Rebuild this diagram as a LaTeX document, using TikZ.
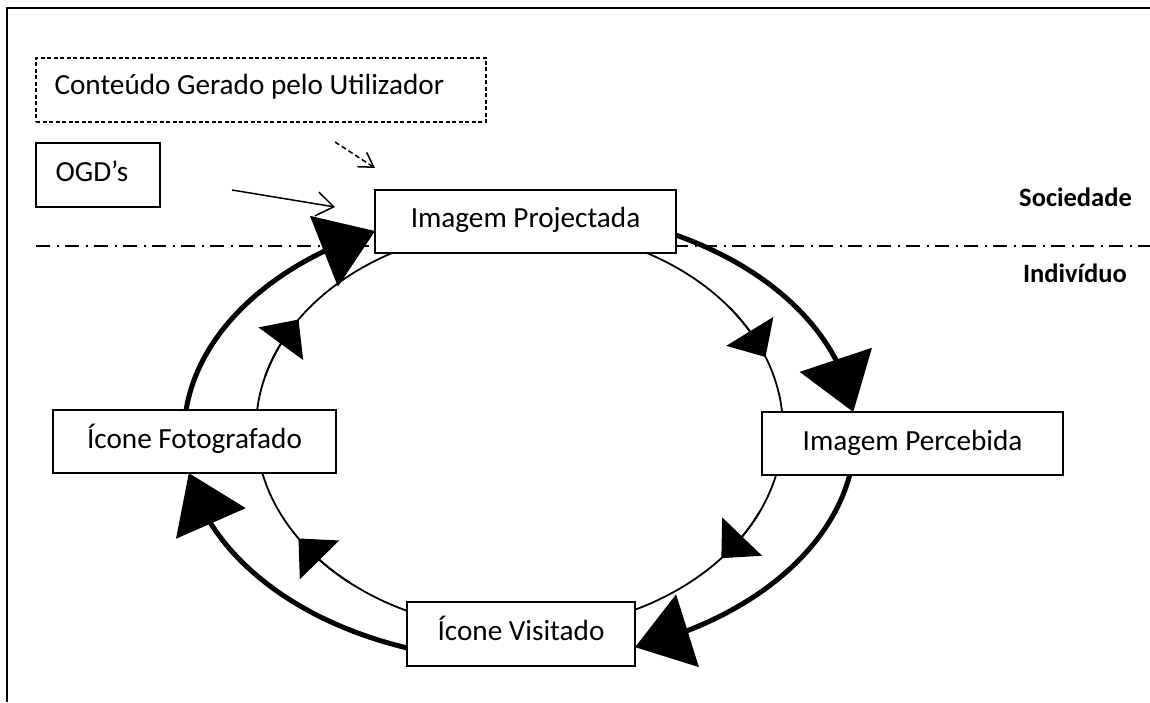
\documentclass[tikz,border=0pt]{standalone}
\usepackage{fontspec}
\setmainfont{Carlito}
\usetikzlibrary{arrows.meta,bending}

\begin{document}
\begin{tikzpicture}[x=1pt,y=1pt,
  box/.style={draw,line width=1.4pt,fill=white,inner sep=0pt,
    font=\fontsize{29.2}{32}\selectfont,text height=19pt,text depth=6pt,align=center},
  label text/.style={inner sep=0pt,font=\fontsize{29.2}{32}\selectfont,anchor=base west},
  outerloop/.style={line width=5pt,-{Triangle[length=55pt,width=75pt]}},
  innerloop/.style={line width=1.8pt},
  innertip/.style={line width=1.8pt,-{Triangle[length=30pt,width=55pt]}},
  feed/.style={line width=1.5pt,-{Straight Barb[length=17pt,width=24pt]}},
  side/.style={inner sep=0pt,anchor=base east,font=\fontsize{26.5}{30}\selectfont\bfseries},
  frameline/.style={line width=2pt}
]
\useasboundingbox (0,0) rectangle (1150,702);

% page frame (top and left edges)
\coordinate (ftop) at (1150,694);
\coordinate (fcorner) at (7,694);
\coordinate (fbot) at (7,0);
\draw[frameline] (ftop) -- (fcorner) -- (fbot);

% boundary between society and individual
\coordinate (sepL) at (36,456);
\coordinate (sepR) at (1150,456);
\draw[line width=1.5pt,dash pattern=on 14pt off 7pt on 2pt off 6pt] (sepL) -- (sepR);

% centres of the two cycles
\coordinate (co) at (519.5,267);
\coordinate (ci) at (519.5,273);

% inner cycle
\draw[innerloop] (ci) ellipse[x radius=263.5, y radius=201];
\draw[innertip] (ci) ++(165:263.5 and 201) arc[start angle=165, end angle=147, x radius=263.5, y radius=201];
\draw[innertip] (ci) ++(38:263.5 and 201) arc[start angle=38, end angle=21, x radius=263.5, y radius=201];
\draw[innertip] (ci) ++(-24:263.5 and 201) arc[start angle=-24, end angle=-40, x radius=263.5, y radius=201];
\draw[innertip] (ci) ++(-130:263.5 and 201) arc[start angle=-130, end angle=-147, x radius=263.5, y radius=201];

% outer cycle
\draw[outerloop] (co) ++(173.65:335.5 and 226) arc[start angle=173.65, end angle=115.5, x radius=335.5, y radius=226];
\draw[outerloop] (co) ++(62.2:335.5 and 226) arc[start angle=62.2, end angle=5.84, x radius=335.5, y radius=226];
\draw[outerloop] (co) ++(-10.2:335.5 and 226) arc[start angle=-10.2, end angle=-69.86, x radius=335.5, y radius=226];
\draw[outerloop] (co) ++(-109.6:335.5 and 226) arc[start angle=-109.6, end angle=-170.3, x radius=335.5, y radius=226];

% stages
\node[box,minimum width=301pt,minimum height=63pt] (proj) at (525.5,480.5) {Imagem Projectada};
\node[box,minimum width=283pt,minimum height=63pt] (fot) at (194.5,260.5) {Ícone Fotografado};
\node[box,minimum width=301pt,minimum height=63pt] (perc) at (912.5,258.5) {Imagem Percebida};
\node[box,minimum width=228pt,minimum height=64pt] (vis) at (521,68) {Ícone Visitado};

% sources
\node[box,dash pattern=on 4pt off 2.5pt,minimum width=450pt,minimum height=64pt] (cgu) at (261,612) {};
\node[label text] (cgutext) at ([xshift=19pt,yshift=-5pt]cgu.west) {Conteúdo Gerado pelo Utilizador};
\node[box,minimum width=124pt,minimum height=64pt] (ogd) at (98,527) {};
\node[label text] (ogdtext) at ([xshift=20pt,yshift=-7pt]ogd.west) {OGD’s};

\coordinate (ogdA) at (232,512);
\coordinate (ogdB) at (335,495);
\draw[feed] (ogdA) -- (ogdB);
\coordinate (cguA) at (335,560);
\coordinate (cguB) at (375,534);
\draw[feed,dash pattern=on 5pt off 3pt,-{Straight Barb[length=14pt,width=17pt]}] (cguA) -- (cguB);

% levels
\node[side] (soc) at (1132,495) {Sociedade};
\node[side] (ind) at (1127,419) {Indivíduo};
\end{tikzpicture}
\end{document}
